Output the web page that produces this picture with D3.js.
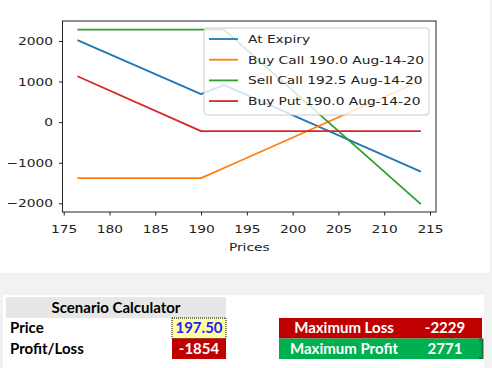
<!DOCTYPE html>
<html>
<head>
<meta charset="utf-8">
<script src="https://cdn.jsdelivr.net/npm/d3@7"></script>
<style>
  body { margin: 0; background: #f1f2f1; }
  svg { display: block; }
</style>
</head>
<body>
<svg id="canvas" width="492" height="368"></svg>
<script>
// payoff chart data (prices along x, P/L along y)
let prices = [176.5, 190, 192.5, 214];
let seriesNames = ["At Expiry", "Buy Call 190.0 Aug-14-20", "Sell Call 192.5 Aug-14-20", "Buy Put 190.0 Aug-14-20"];
let atExpiry = [2020, 690, 920, -1220];
let buyCall = [-1380, -1380, -1130, 1020];
let sellCall = [2280, 2280, 2280, -2020];
let buyPut = [1130, -220, -220, -220];
let colors = ["#1f77b4", "#ff7f0e", "#2ca02c", "#d62728"];
let xTicks = [175, 180, 185, 190, 195, 200, 205, 210, 215];
let yTicks = [-2000, -1000, 0, 1000, 2000];

// scenario calculator data
let calcLabels = ["Price", "Profit/Loss"];
let calcValues = ["197.50", "-1854"];
let limitLabels = ["Maximum Loss", "Maximum Profit"];
let limitValues = ["-2229", "2771"];

let canvas = d3.select("#canvas");
let stretch = 1.25; // the reference picture is squeezed wider than tall

// backgrounds
canvas.append("rect").attr("x", 0).attr("y", 0).attr("width", 490).attr("height", 273).attr("fill", "#ffffff");
canvas.append("rect").attr("x", 3).attr("y", 295).attr("width", 481).attr("height", 73).attr("fill", "#ffffff");

let plotLeft = 62.5, plotRight = 436, plotTop = 21, plotBottom = 212;
let xScale = d3.scaleLinear().domain([175, 215]).range([63.7, 430]);
let yScale = d3.scaleLinear().domain([-2000, 2000]).range([203.3, 41]);

let allSeries = [atExpiry, buyCall, sellCall, buyPut];
let line = d3.line()
  .x((d, i) => xScale(prices[i]))
  .y((d) => yScale(d));

let plot = canvas.append("g");
allSeries.forEach((values, i) => {
  plot.append("path")
    .attr("d", line(values))
    .attr("fill", "none")
    .attr("stroke", colors[i])
    .attr("stroke-width", 1.8)
    .attr("stroke-linejoin", "round");
});

// frame
canvas.append("rect")
  .attr("x", plotLeft).attr("y", plotTop)
  .attr("width", plotRight - plotLeft).attr("height", plotBottom - plotTop)
  .attr("fill", "none").attr("stroke", "#222").attr("stroke-width", 1);

let fontStyle = (sel) => sel
  .attr("font-family", "DejaVu Sans")
  .attr("font-size", 11)
  .attr("fill", "#222");

// x axis
let xAxis = canvas.append("g")
  .attr("transform", `translate(0,${plotBottom})`)
  .call(d3.axisBottom(xScale).tickValues(xTicks).tickSize(3.5).tickPadding(9.5));
xAxis.select(".domain").remove();
xAxis.selectAll("line").attr("stroke", "#222");
xAxis.selectAll("text").call(fontStyle).attr("transform", `scale(${stretch},1)`);

// y axis
let yAxis = canvas.append("g")
  .attr("transform", `translate(${plotLeft},0)`)
  .call(d3.axisLeft(yScale).tickValues(yTicks).tickSize(3.5).tickFormat((d) => d < 0 ? "\u2212" + Math.abs(d) : d));
yAxis.select(".domain").remove();
yAxis.selectAll("line").attr("stroke", "#222");
yAxis.selectAll("text").call(fontStyle)
  .attr("x", -9.5 / stretch)
  .attr("transform", `scale(${stretch},1)`);

// axis label
canvas.append("text")
  .attr("transform", `translate(${(plotLeft + plotRight) / 2},251) scale(${stretch},1)`)
  .attr("text-anchor", "middle")
  .call(fontStyle)
  .text("Prices");

// legend
let legend = canvas.append("g");
legend.append("rect")
  .attr("x", 204).attr("y", 28).attr("width", 225).attr("height", 87)
  .attr("rx", 3)
  .attr("fill", "#ffffff").attr("fill-opacity", 0.8)
  .attr("stroke", "#cccccc").attr("stroke-width", 1);
seriesNames.forEach((name, i) => {
  let y = 39 + i * 20.7;
  legend.append("line")
    .attr("x1", 209).attr("x2", 238).attr("y1", y).attr("y2", y)
    .attr("stroke", colors[i]).attr("stroke-width", 1.8);
  legend.append("text")
    .attr("transform", `translate(248,${y + 4}) scale(${stretch},1)`)
    .call(fontStyle)
    .text(name);
});

// scenario calculator
let table = canvas.append("g")
  .attr("font-family", "Lato")
  .attr("font-weight", "bold")
  .attr("font-size", 15);

table.append("rect").attr("x", 6).attr("y", 297).attr("width", 220).attr("height", 21).attr("fill", "#e7e7e7");
table.append("text").attr("x", 116).attr("y", 313).attr("text-anchor", "middle").attr("fill", "#000").text("Scenario Calculator");

let rowY = [318, 338.5];
let cellFills = ["#ffff9f", "#c00000"];
let cellText = ["#2020ff", "#ffffff"];
calcLabels.forEach((label, i) => {
  table.append("text").attr("x", 10).attr("y", rowY[i] + 15).attr("fill", "#000").text(label);
  table.append("rect")
    .attr("x", 172).attr("y", rowY[i]).attr("width", 54).attr("height", 20.5)
    .attr("fill", cellFills[i])
    .attr("stroke", i === 0 ? "#000" : "none")
    .attr("stroke-dasharray", "1,1");
  table.append("text")
    .attr("x", 199).attr("y", rowY[i] + 15)
    .attr("text-anchor", "middle")
    .attr("fill", cellText[i])
    .text(calcValues[i]);
});

let limitFills = ["#c00000", "#00b050"];
limitLabels.forEach((label, i) => {
  table.append("rect")
    .attr("x", 279).attr("y", rowY[i]).attr("width", 203).attr("height", 20.5)
    .attr("fill", limitFills[i]);
  table.append("text").attr("x", 344).attr("y", rowY[i] + 15)
    .attr("text-anchor", "middle").attr("fill", "#fff").text(label);
  table.append("text").attr("x", 445).attr("y", rowY[i] + 15)
    .attr("text-anchor", "middle").attr("fill", "#fff").text(limitValues[i]);
});

// selected-cell bracket
table.append("path")
  .attr("d", "M479,339.5 H482.5 V358 H479")
  .attr("fill", "none").attr("stroke", "#1e6b41").attr("stroke-width", 2);
</script>
</body>
</html>
